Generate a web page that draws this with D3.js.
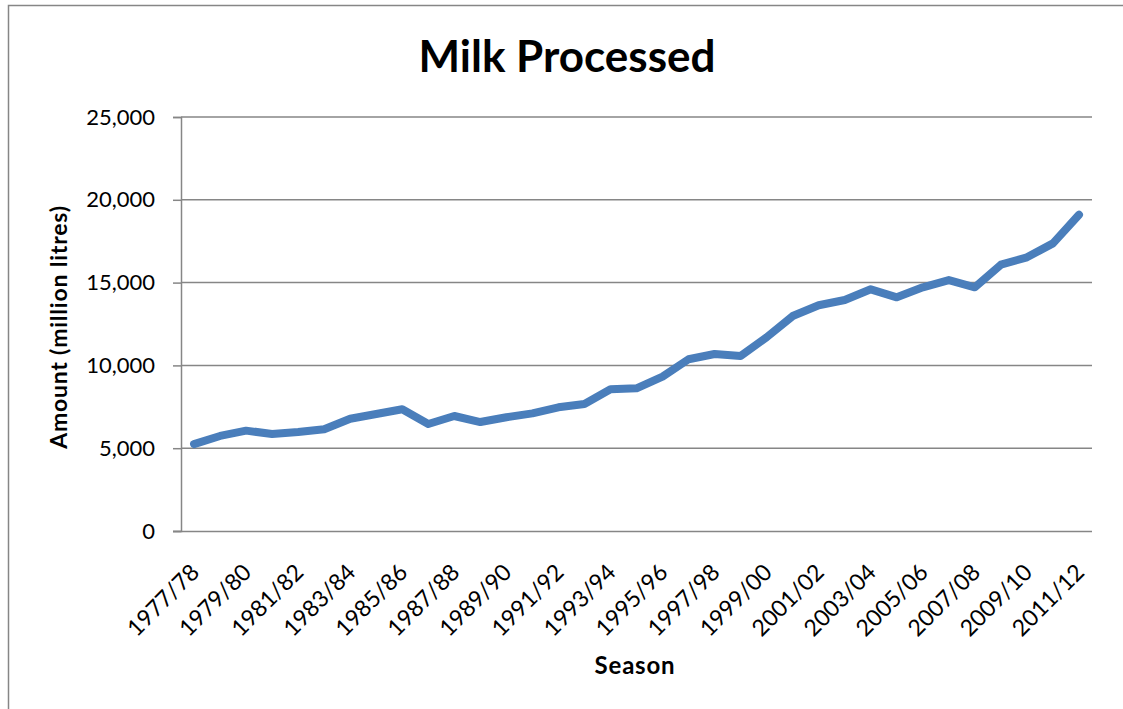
<!DOCTYPE html>
<html>
<head>
<meta charset="utf-8">
<script src="https://cdn.jsdelivr.net/npm/d3@7"></script>
<style>
  body { margin: 0; background: #fff; }
  text { font-family: Lato, "Noto Sans", sans-serif; fill: #000; }
</style>
</head>
<body>
<script>
const seasons = ["1977/78","1978/79","1979/80","1980/81","1981/82","1982/83","1983/84","1984/85","1985/86","1986/87",
  "1987/88","1988/89","1989/90","1990/91","1991/92","1992/93","1993/94","1994/95","1995/96","1996/97",
  "1997/98","1998/99","1999/00","2000/01","2001/02","2002/03","2003/04","2004/05","2005/06","2006/07",
  "2007/08","2008/09","2009/10","2010/11","2011/12"]
const milk = [5250, 5740, 6060, 5860, 5980, 6140, 6780, 7065, 7350, 6460,
  6945, 6580, 6870, 7105, 7470, 7670, 8555, 8615, 9320, 10370,
  10690, 10570, 11700, 12980, 13630, 13950, 14595, 14110, 14715, 15155,
  14715, 16080, 16525, 17370, 19100]
const yTicks = [0, 5000, 10000, 15000, 20000, 25000]

const width = 1123, height = 709
const margin = { left: 181, right: 1123 - 1092, top: 117, bottom: 709 - 531 }
const font = "Lato, 'Noto Sans', sans-serif"

const svg = d3.select("body").append("svg")
    .attr("width", width)
    .attr("height", height)

// chart border
svg.append("rect")
    .attr("x", 8.5).attr("y", 5.5)
    .attr("width", width + 10).attr("height", height + 10)
    .attr("fill", "none")
    .attr("stroke", "#868686")
    .attr("stroke-width", 1.5)

const x = d3.scaleBand()
    .domain(seasons)
    .range([margin.left, width - margin.right])

const y = d3.scaleLinear()
    .domain([0, 25000])
    .range([height - margin.bottom, margin.top])

// gridlines
svg.append("g")
    .selectAll("line")
    .data(yTicks.slice(1))
    .join("line")
    .attr("x1", margin.left)
    .attr("x2", width - margin.right)
    .attr("y1", d => y(d))
    .attr("y2", d => y(d))
    .attr("stroke", "#868686")
    .attr("stroke-width", 1.5)

// y axis
const yAxis = svg.append("g")
    .attr("transform", `translate(${margin.left},0)`)
    .call(d3.axisLeft(y).tickValues(yTicks).tickSize(8).tickPadding(18).tickFormat(d3.format(",")))
yAxis.select(".domain").attr("stroke", "#868686").attr("stroke-width", 1.5)
yAxis.selectAll(".tick line").attr("stroke", "#868686").attr("stroke-width", 1.5)
yAxis.selectAll(".tick text").attr("font-size", 22).attr("fill", "#000")
    .style("font-family", font)

// x axis
const xAxis = svg.append("g")
    .attr("transform", `translate(0,${height - margin.bottom})`)
    .call(d3.axisBottom(x).tickValues(seasons.filter((d, i) => i % 2 === 0)).tickSize(0).tickSizeOuter(0))
xAxis.select(".domain").attr("stroke", "#868686").attr("stroke-width", 1.5)
    .attr("d", `M${margin.left - 8},0.5H${width - margin.right}`)
xAxis.selectAll(".tick text")
    .attr("font-size", 23)
    .attr("fill", "#000")
    .style("font-family", font)
    .attr("text-anchor", "end")
    .attr("x", 0).attr("y", 0)
    .attr("dy", "0.35em")
    .attr("transform", "translate(1,37) rotate(-45)")

// line
const line = d3.line()
    .x((d, i) => x(seasons[i]) + x.bandwidth() / 2)
    .y(d => y(d))

svg.append("path")
    .datum(milk)
    .attr("fill", "none")
    .attr("stroke", "#4a7ebb")
    .attr("stroke-width", 8)
    .attr("stroke-linejoin", "round")
    .attr("stroke-linecap", "round")
    .attr("d", line)

// titles
svg.append("text")
    .attr("x", 567).attr("y", 72)
    .attr("text-anchor", "middle")
    .attr("font-size", 44)
    .attr("font-weight", "bold")
    .text("Milk Processed")

svg.append("text")
    .attr("transform", `translate(67,327) rotate(-90)`)
    .attr("text-anchor", "middle")
    .attr("font-size", 23)
    .attr("font-weight", "bold")
    .attr("letter-spacing", 0.8)
    .text("Amount (million litres)")

svg.append("text")
    .attr("x", 635).attr("y", 674)
    .attr("text-anchor", "middle")
    .attr("font-size", 24)
    .attr("font-weight", "bold")
    .attr("letter-spacing", 0.8)
    .text("Season")
</script>
</body>
</html>
